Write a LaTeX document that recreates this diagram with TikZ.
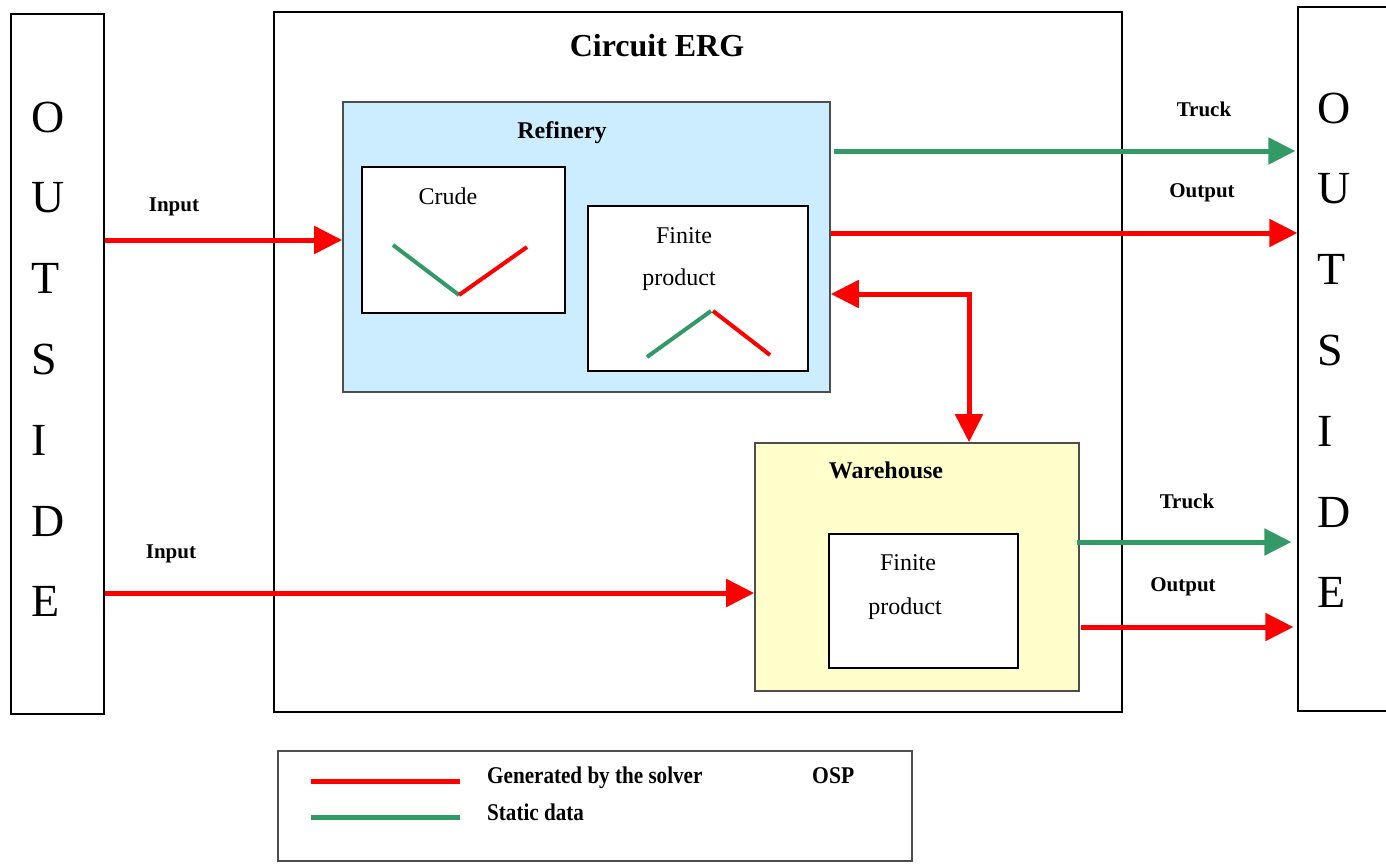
\documentclass[tikz,border=0pt]{standalone}
\usepackage{fontspec}
\setmainfont{Liberation Serif}
\usetikzlibrary{arrows.meta}
\definecolor{sgreen}{HTML}{339966}
\definecolor{lblue}{HTML}{CCECFF}
\definecolor{lyellow}{HTML}{FFFFCC}
\definecolor{bgray}{HTML}{4D4D4D}
\newcommand\myfs[1]{\fontsize{#1}{#1}\selectfont}
\tikzset{
  plainbox/.style={draw=black, line width=1.2pt, inner sep=0pt},
  groupbox/.style={draw=bgray, line width=1.6pt, inner sep=0pt},
  redarr/.style={draw=red, line width=5pt, -{Triangle[length=28pt,width=27pt]}},
  greenarr/.style={draw=sgreen, line width=5pt, -{Triangle[length=27pt,width=26pt]}},
  vred/.style={draw=red, line width=4pt},
  vgreen/.style={draw=sgreen, line width=4pt},
  lbl/.style={anchor=base, inner sep=0pt, font=\myfs{21}\bfseries},
  boxtxt/.style={anchor=base, inner sep=0pt, font=\myfs{24}},
  boxtitle/.style={anchor=base, inner sep=0pt, font=\myfs{24}\bfseries},
  outletter/.style={anchor=base west, inner sep=0pt, font=\myfs{46}},
  legtxt/.style={anchor=base west, inner sep=0pt, font=\myfs{24}\bfseries}
}
\begin{document}
\begin{tikzpicture}[x=1pt,y=-1pt]
\clip (0,0) rectangle (1386,863);
\fill[white] (0,0) rectangle (1386,863);
% boxes
\node[plainbox, minimum width=93pt, minimum height=700pt] (lout) at (57.5,364) {};
\node[plainbox, minimum width=848pt, minimum height=700pt] (circ) at (698,362) {};
\node[plainbox, minimum width=92pt, minimum height=704pt] (rout) at (1344,359) {};
\node[groupbox, fill=lblue, minimum width=487pt, minimum height=290pt] (ref) at (586.5,247) {};
\node[plainbox, fill=white, minimum width=203pt, minimum height=146pt] (crude) at (463.5,240) {};
\node[plainbox, fill=white, minimum width=220pt, minimum height=165pt] (fp1) at (698,288.5) {};
\node[groupbox, fill=lyellow, minimum width=324pt, minimum height=248pt] (wh) at (917,567) {};
\node[plainbox, fill=white, minimum width=189pt, minimum height=134pt] (fp2) at (923.5,601) {};
\node[groupbox, minimum width=634pt, minimum height=110pt] (leg) at (595,806) {};
% OUTSIDE letters
\foreach \l [count=\i from 0] in {O,U,T,S,I,D,E} {
  \node[outletter] (lo\i) at (31,132+80.8*\i) {\l};
  \node[outletter] (ro\i) at (1317,123+80.8*\i) {\l};
}
% titles
\node[anchor=base, inner sep=0pt, font=\myfs{32}\bfseries] (ttl) at (657,56) {Circuit ERG};
\node[boxtitle] (reft) at (562,138) {Refinery};
\node[boxtitle] (wht) at (886,478) {Warehouse};
\node[boxtxt] (crt) at (448,204) {Crude};
\node[boxtxt] (f1a) at (684,243) {Finite};
\node[boxtxt] (f1b) at (679,285) {product};
\node[boxtxt] (f2a) at (908,570) {Finite};
\node[boxtxt] (f2b) at (905,614) {product};
% connector labels
\node[lbl] (in1) at (174,211) {Input};
\node[lbl] (in2) at (171,558) {Input};
\node[lbl] (tr1) at (1204,116) {Truck};
\node[lbl] (op1) at (1202,197) {Output};
\node[lbl] (tr2) at (1187,508) {Truck};
\node[lbl] (op2) at (1183,591) {Output};
% connectors
\draw[redarr] (lout.east |- 0,240) -- (ref.west |- 0,240);
\draw[redarr] (lout.east |- 0,593) -- (wh.west |- 0,593);
\draw[greenarr] ([xshift=3pt]ref.east |- 0,151) -- ([xshift=-2pt]rout.west |- 0,151);
\draw[redarr] (ref.east |- 0,233) -- (rout.west |- 0,233);
\draw[greenarr] ([xshift=-3pt]wh.east |- 0,542) -- ([xshift=-6pt]rout.west |- 0,542);
\draw[redarr] ([xshift=1pt]wh.east |- 0,627) -- ([xshift=-4pt]rout.west |- 0,627);
\coordinate (corner) at (969,294);
\draw[redarr, {Triangle[length=28pt,width=27pt]}-{Triangle[length=28pt,width=27pt]}]
  (ref.east |- corner) -- (corner) -- (corner |- wh.north);
% chart marks inside boxes
\draw[vgreen] (393,245) -- (459,295);
\draw[vred] (459,295) -- (527,247);
\draw[vgreen] (647,357) -- (711,311);
\draw[vred] (713,311) -- (770,355);
% legend
\draw[draw=red, line width=5pt] (311,781) -- (460,781);
\draw[draw=sgreen, line width=5pt] (311,817) -- (460,817);
\node[legtxt] (lg1) at (487,783) {\scalebox{0.88}[1]{Generated by the solver}};
\node[legtxt] (lg2) at (812,783) {\scalebox{0.9}[1]{OSP}};
\node[legtxt] (lg3) at (487,820) {\scalebox{0.88}[1]{Static data}};
\end{tikzpicture}
\end{document}
